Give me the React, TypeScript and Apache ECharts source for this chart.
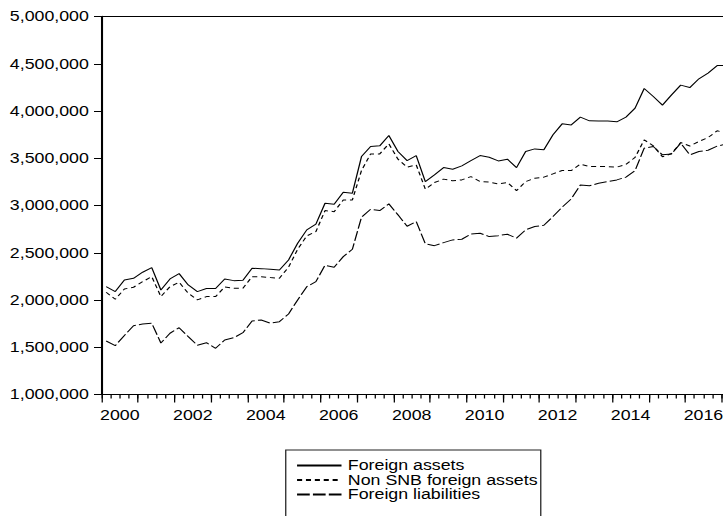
import React, { useEffect, useRef } from "react";
import * as echarts from "echarts";

const S = 1.27;
const FONT = "Arial, 'Liberation Sans', sans-serif";

const years = [
  "2000", "2001", "2002", "2003", "2004", "2005", "2006", "2007", "2008",
  "2009", "2010", "2011", "2012", "2013", "2014", "2015", "2016", "2017",
];
const quarterNames = ["Q1", "Q2", "Q3", "Q4"];
const quarters = years.flatMap((y) => quarterNames.map((q) => `${y}${q}`));

const yMin = 1000000;
const yMax = 5000000;
const yStep = 500000;

const seriesNames = ["Foreign assets", "Non SNB foreign assets", "Foreign liabilities"];

const foreignAssets = [
  2141000, 2089000, 2212000, 2230000, 2294000, 2343000, 2106000, 2223000, 2279000, 2159000,
  2089000, 2121000, 2121000, 2223000, 2205000, 2209000, 2336000, 2332000, 2326000, 2318000,
  2424000, 2601000, 2742000, 2802000, 3024000, 3014000, 3141000, 3130000,
  3518000, 3624000, 3631000, 3740000, 3571000, 3475000, 3528000, 3253000, 3324000, 3401000,
  3384000, 3419000, 3475000, 3528000, 3511000, 3472000, 3490000, 3401000, 3571000, 3599000,
  3589000, 3748000, 3864000, 3853000, 3935000, 3896000, 3893000, 3893000, 3885000, 3935000,
  4030000, 4238000, 4153000, 4062000, 4171000, 4274000, 4248000, 4341000, 4401000, 4481000,
  4481000,
];

const nonSnbForeignAssets = [
  2082000, 2008000, 2117000, 2135000, 2194000, 2247000, 2036000, 2141000, 2188000, 2071000,
  2001000, 2036000, 2036000, 2138000, 2124000, 2124000, 2247000, 2247000, 2237000, 2230000,
  2347000, 2537000, 2678000, 2724000, 2946000, 2935000, 3059000, 3059000,
  3370000, 3546000, 3546000, 3652000, 3490000, 3406000, 3430000, 3173000, 3243000, 3279000,
  3261000, 3271000, 3306000, 3253000, 3247000, 3229000, 3243000, 3158000, 3253000, 3289000,
  3300000, 3335000, 3370000, 3370000, 3437000, 3412000, 3412000, 3412000, 3406000, 3435000,
  3509000, 3695000, 3631000, 3515000, 3550000, 3666000, 3629000, 3677000, 3719000, 3790000,
  3769000,
];

const foreignLiabilities = [
  1566000, 1517000, 1625000, 1728000, 1746000, 1754000, 1545000, 1648000, 1707000, 1612000,
  1521000, 1548000, 1489000, 1577000, 1601000, 1654000, 1778000, 1789000, 1754000, 1771000,
  1852000, 2001000, 2141000, 2194000, 2368000, 2347000, 2459000, 2537000,
  2875000, 2961000, 2946000, 3017000, 2901000, 2780000, 2830000, 2595000, 2575000, 2607000,
  2636000, 2643000, 2699000, 2707000, 2671000, 2681000, 2696000, 2654000, 2742000, 2777000,
  2791000, 2883000, 2982000, 3070000, 3218000, 3208000, 3236000, 3253000, 3271000, 3300000,
  3370000, 3607000, 3624000, 3536000, 3546000, 3660000, 3536000, 3571000, 3585000, 3628000,
  3650000,
];

export default function App() {
  const ref = useRef<HTMLDivElement>(null);

  useEffect(() => {
    if (!ref.current) return;
    const chart = echarts.init(ref.current, null, { renderer: "svg" });
    const black = "#000";
    chart.setOption({
      animation: false,
      backgroundColor: "#fff",
      textStyle: { fontFamily: FONT },
      grid: {
        left: 80,
        top: 16.5,
        width: 517,
        height: 378,
        show: true,
        borderColor: black,
        borderWidth: 1,
        backgroundColor: "transparent",
      },
      legend: {
        orient: "vertical",
        left: 225,
        top: 450,
        width: 250,
        height: 120,
        padding: [8.5, 2.5, 24, 7.9],
        itemWidth: 35,
        itemHeight: 13,
        itemGap: 0.5,
        borderColor: "#222",
        borderWidth: 1,
        selectedMode: false,
        itemStyle: { color: "transparent", borderColor: "transparent", borderWidth: 0, opacity: 0 },
        textStyle: { fontSize: 14, color: black, lineHeight: 13, fontFamily: FONT },
        data: seriesNames,
      },
      xAxis: [
        {
          type: "category",
          data: quarters,
          boundaryGap: true,
          position: "bottom",
          axisLine: { show: true, lineStyle: { color: black, width: 1 } },
          axisTick: { show: true, interval: 0, length: 4, lineStyle: { color: black, width: 1 } },
          axisLabel: { show: false },
          splitLine: { show: false },
        },
        {
          type: "category",
          data: years,
          boundaryGap: true,
          position: "bottom",
          axisLine: { show: false },
          axisTick: { show: true, interval: 0, length: 8, lineStyle: { color: black, width: 1 } },
          axisLabel: {
            interval: 1,
            fontSize: 14,
            color: black,
            margin: 14,
            fontFamily: FONT,
          },
          splitLine: { show: false },
        },
      ],
      yAxis: {
        type: "value",
        min: yMin,
        max: yMax,
        interval: yStep,
        axisLine: { show: true, lineStyle: { color: black, width: 1.3 } },
        axisTick: { show: true, length: 6, lineStyle: { color: black, width: 1 } },
        axisLabel: {
          fontSize: 14,
          color: black,
          margin: 10,
          fontFamily: FONT,
          formatter: (v: number) => v.toLocaleString("en-US"),
        },
        splitLine: { show: false },
      },
      series: [
        {
          name: seriesNames[0],
          type: "line",
          xAxisIndex: 0,
          data: foreignAssets,
          symbol: "none",
          itemStyle: { color: black },
          lineStyle: { color: black, width: 1, type: "solid" },
        },
        {
          name: seriesNames[1],
          type: "line",
          xAxisIndex: 0,
          data: nonSnbForeignAssets,
          symbol: "none",
          itemStyle: { color: black },
          lineStyle: { color: black, width: 1, type: [4, 3] },
        },
        {
          name: seriesNames[2],
          type: "line",
          xAxisIndex: 0,
          data: foreignLiabilities,
          symbol: "none",
          itemStyle: { color: black },
          lineStyle: { color: black, width: 1, type: [10, 2.5] },
        },
      ],
    });
    return () => chart.dispose();
  }, []);

  return (
    <div
      style={{
        position: "fixed",
        left: 0,
        top: 0,
        width: 723,
        height: 516,
        overflow: "hidden",
        background: "#fff",
      }}
    >
      <div
        ref={ref}
        style={{
          width: 600,
          height: 516,
          transform: `scaleX(${S})`,
          transformOrigin: "0 0",
        }}
      />
    </div>
  );
}
